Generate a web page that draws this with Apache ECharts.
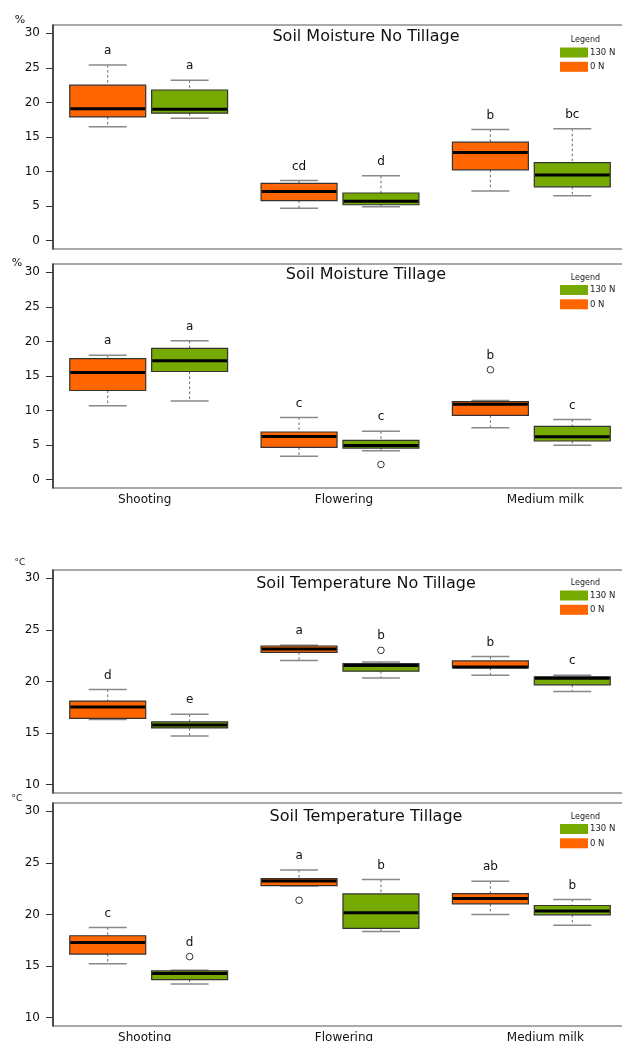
<!DOCTYPE html>
<html>
<head>
<meta charset="utf-8">
<script src="https://cdn.jsdelivr.net/npm/echarts@6/dist/echarts.min.js"></script>
<style>
  html, body { margin: 0; padding: 0; background: #fff; overflow: hidden; }
  #chart { width: 622px; height: 1041px; }
</style>
</head>
<body>
<div id="chart"></div>
<script>
// Growth stages on the x axis
const stages = ['Shooting', 'Flowering', 'Medium milk'];

// Tick labels
const moistureTicks = [0, 5, 10, 15, 20, 25, 30];
const temperatureTicks = [10, 15, 20, 25, 30];

// Box summaries per stage: [lower whisker, Q1, median, Q3, upper whisker]
// Soil moisture (%), no tillage
const moistNoTill0N   = [[16.5, 17.9, 19.1, 22.5, 25.4], [4.7, 5.8, 7.1, 8.3, 8.7], [7.2, 10.25, 12.75, 14.25, 16.1]];
const moistNoTill130N = [[17.7, 18.45, 19.0, 21.8, 23.2], [4.9, 5.2, 5.7, 6.9, 9.4], [6.5, 7.8, 9.5, 11.3, 16.2]];
const moistNoTillOut0N   = [[], [], []];
const moistNoTillOut130N = [[], [], []];
const moistNoTillLetters0N   = ['a', 'cd', 'b'];
const moistNoTillLetters130N = ['a', 'd', 'bc'];

// Soil moisture (%), tillage
const moistTill0N   = [[10.7, 12.9, 15.5, 17.5, 18.0], [3.4, 4.67, 6.26, 6.9, 9.0], [7.5, 9.3, 10.9, 11.3, 11.45]];
const moistTill130N = [[11.4, 15.65, 17.2, 19.0, 20.1], [4.2, 4.57, 4.96, 5.7, 7.0], [5.0, 5.6, 6.2, 7.7, 8.7]];
const moistTillOut0N   = [[], [], [15.9]];
const moistTillOut130N = [[], [2.2], []];
const moistTillLetters0N   = ['a', 'c', 'b'];
const moistTillLetters130N = ['a', 'c', 'c'];

// Soil temperature (°C), no tillage
const tempNoTill0N   = [[16.33, 16.43, 17.52, 18.1, 19.23], [22.03, 22.83, 23.15, 23.44, 23.5], [20.61, 21.32, 21.41, 21.99, 22.41]];
const tempNoTill130N = [[14.73, 15.5, 15.79, 16.08, 16.82], [20.35, 21.0, 21.54, 21.74, 21.9], [19.04, 19.68, 20.32, 20.45, 20.61]];
const tempNoTillOut0N   = [[], [], []];
const tempNoTillOut130N = [[], [23.02], []];
const tempNoTillLetters0N   = ['d', 'a', 'b'];
const tempNoTillLetters130N = ['e', 'b', 'c'];

// Soil temperature (°C), tillage
const tempTill0N   = [[15.24, 16.17, 17.3, 17.94, 18.75], [22.75, 22.8, 23.25, 23.47, 24.31], [20.0, 21.03, 21.54, 22.03, 23.22]];
const tempTill130N = [[13.28, 13.7, 14.28, 14.53, 14.6], [18.36, 18.65, 20.16, 21.99, 23.38], [18.97, 19.97, 20.35, 20.87, 21.45]];
const tempTillOut0N   = [[], [21.38], []];
const tempTillOut130N = [[15.92], [], []];
const tempTillLetters0N   = ['c', 'a', 'ab'];
const tempTillLetters130N = ['d', 'b', 'b'];

// ---- styling / layout ----
const ORANGE = '#ff6600';
const GREEN = '#76aa00';
const FONT = '"DejaVu Sans", Verdana, sans-serif';
const GRID_LEFT = 53;
const GRID_WIDTH = 574;      // right frame edge falls just past the canvas
const BOX_FRAC = 0.397;      // box width as a share of the category band
const HALF_SPACING = 0.214;  // offset of each box centre from the band centre
const LETTER_GAP = 14;       // px between the top of a box group and its letter
const STAGE_LABEL_SHIFT = { 'Shooting': -4, 'Flowering': 4, 'Medium milk': 14 }; // px nudge of stage labels

const panels = [
  { title: 'Soil Moisture No Tillage', unit: '%', top: 25, height: 224, min: -1.2, max: 31.2, ticks: moistureTicks,
    showStages: false, titleY: 37, legendTop: 47.5, unitPos: [20, 20],
    d0: moistNoTill0N, d130: moistNoTill130N, o0: moistNoTillOut0N, o130: moistNoTillOut130N,
    l0: moistNoTillLetters0N, l130: moistNoTillLetters130N },
  { title: 'Soil Moisture Tillage', unit: '%', top: 264, height: 224, min: -1.2, max: 31.2, ticks: moistureTicks,
    showStages: true, titleY: 275, legendTop: 285, unitPos: [17, 263],
    d0: moistTill0N, d130: moistTill130N, o0: moistTillOut0N, o130: moistTillOut130N,
    l0: moistTillLetters0N, l130: moistTillLetters130N },
  { title: 'Soil Temperature No Tillage', unit: '°C', top: 570, height: 223, min: 9.2, max: 30.8, ticks: temperatureTicks,
    showStages: false, titleY: 584, legendTop: 590.5, unitPos: [20, 563],
    d0: tempNoTill0N, d130: tempNoTill130N, o0: tempNoTillOut0N, o130: tempNoTillOut130N,
    l0: tempNoTillLetters0N, l130: tempNoTillLetters130N },
  { title: 'Soil Temperature Tillage', unit: '°C', top: 803, height: 223, min: 9.2, max: 30.8, ticks: temperatureTicks,
    showStages: true, titleY: 817, legendTop: 824, unitPos: [17, 799],
    d0: tempTill0N, d130: tempTill130N, o0: tempTillOut0N, o130: tempTillOut130N,
    l0: tempTillLetters0N, l130: tempTillLetters130N }
];

// R-style box: dashed whiskers, half-width caps, thick median, letter above
function boxRenderer(side, letters, tops) {
  return function (params, api) {
    const cat = api.value(0);
    const band = api.size([1, 0])[0];
    const cx = api.coord([cat, 0])[0] + side * band * HALF_SPACING;
    const w = band * BOX_FRAC;
    const y = v => api.coord([cat, v])[1];
    const lo = y(api.value(1)), q1 = y(api.value(2)), md = y(api.value(3)),
          q3 = y(api.value(4)), hi = y(api.value(5));
    const whisker = { stroke: '#666', lineWidth: 1, lineDash: [2.5, 2.5] };
    const cap = { stroke: '#888', lineWidth: 1.5 };
    return {
      type: 'group',
      children: [
        { type: 'line', shape: { x1: cx, y1: hi, x2: cx, y2: q3 }, style: whisker },
        { type: 'line', shape: { x1: cx, y1: q1, x2: cx, y2: lo }, style: whisker },
        { type: 'line', shape: { x1: cx - w / 4, y1: hi, x2: cx + w / 4, y2: hi }, style: cap },
        { type: 'line', shape: { x1: cx - w / 4, y1: lo, x2: cx + w / 4, y2: lo }, style: cap },
        { type: 'rect', shape: { x: cx - w / 2, y: q3, width: w, height: q1 - q3 },
          style: { fill: api.visual('color'), stroke: '#333', lineWidth: 1.2 } },
        { type: 'line', shape: { x1: cx - w / 2 + 0.6, y1: md, x2: cx + w / 2 - 0.6, y2: md },
          style: { stroke: '#000', lineWidth: 3 } },
        { type: 'text', x: cx, y: y(tops[params.dataIndex]) - LETTER_GAP,
          style: { text: letters[params.dataIndex], align: 'center', verticalAlign: 'middle',
                   font: '12px ' + FONT, fill: '#111' } }
      ]
    };
  };
}

function outlierRenderer(side) {
  return function (params, api) {
    const cat = api.value(0);
    const band = api.size([1, 0])[0];
    const p = api.coord([cat, api.value(1)]);
    return { type: 'circle', shape: { cx: p[0] + side * band * HALF_SPACING, cy: p[1], r: 3.3 },
             style: { fill: 'none', stroke: '#333', lineWidth: 1 } };
  };
}

const stageAxisData = stages.map(s => {
  const shift = STAGE_LABEL_SHIFT[s] || 0;
  return { value: s, textStyle: { padding: shift >= 0 ? [0, 0, 0, 2 * shift] : [0, -2 * shift, 0, 0] } };
});

const grids = [], xAxes = [], yAxes = [], series = [], legends = [], graphics = [];

panels.forEach((pn, i) => {
  grids.push({ left: GRID_LEFT, width: GRID_WIDTH, top: pn.top, height: pn.height, show: true,
               outerBoundsMode: 'none', containLabel: false,
               borderColor: '#555', borderWidth: 1.2, backgroundColor: 'transparent' });
  xAxes.push({ type: 'category', gridIndex: i, data: stageAxisData, boundaryGap: true,
               axisLine: { show: false }, axisTick: { show: false }, splitLine: { show: false },
               axisLabel: { show: pn.showStages, margin: 6, fontSize: 12, fontFamily: FONT, color: '#111' } });
  yAxes.push({ type: 'value', gridIndex: i, min: pn.min, max: pn.max, splitLine: { show: false },
               axisLine: { show: true, lineStyle: { color: '#333', width: 1.5 } },
               axisTick: { show: true, length: 7, customValues: pn.ticks, lineStyle: { color: '#333' } },
               axisLabel: { customValues: pn.ticks, margin: 13, fontSize: 12, fontFamily: FONT, color: '#111' } });

  const groups = [
    { name: '0 N', color: ORANGE, side: -1, data: pn.d0, out: pn.o0, letters: pn.l0 },
    { name: '130 N', color: GREEN, side: 1, data: pn.d130, out: pn.o130, letters: pn.l130 }
  ];
  groups.forEach(g => {
    const tops = g.data.map((b, k) => Math.max(b[4], ...g.out[k]));
    series.push({
      type: 'custom', name: g.name, xAxisIndex: i, yAxisIndex: i,
      itemStyle: { color: g.color },
      renderItem: boxRenderer(g.side, g.letters, tops),
      encode: { x: 0, y: [1, 2, 3, 4, 5] },
      data: g.data.map((b, k) => [k].concat(b))
    });
    const outPts = [];
    g.out.forEach((vals, k) => vals.forEach(v => outPts.push([k, v])));
    series.push({
      type: 'custom', name: g.name + ' outliers', xAxisIndex: i, yAxisIndex: i,
      renderItem: outlierRenderer(g.side), encode: { x: 0, y: 1 }, data: outPts
    });
  });

  legends.push({
    data: ['130 N', '0 N'], orient: 'vertical', left: 560, top: pn.legendTop, padding: 0,
    itemWidth: 28, itemHeight: 10, itemGap: 4.3, icon: 'rect', selectedMode: false,
    itemStyle: { borderWidth: 0 },
    textStyle: { fontSize: 8.5, lineHeight: 10, fontFamily: FONT, color: '#222', padding: [0, 0, 0, -3] }
  });

  graphics.push(
    { type: 'text', x: 366, y: pn.titleY,
      style: { text: pn.title, align: 'center', verticalAlign: 'middle', font: '16px ' + FONT, fill: '#111' } },
    { type: 'text', x: 585.5, y: pn.legendTop - 7.5,
      style: { text: 'Legend', align: 'center', verticalAlign: 'middle', font: '8px ' + FONT, fill: '#222' } },
    { type: 'text', x: pn.unitPos[0], y: pn.unitPos[1],
      style: { text: pn.unit, align: 'center', verticalAlign: 'middle',
               font: (pn.unit === '%' ? '11px ' : '9px ') + FONT, fill: '#111' } }
  );
});

const chart = echarts.init(document.getElementById('chart'), null, { renderer: 'canvas' });
chart.setOption({
  animation: false,
  backgroundColor: '#fff',
  grid: grids,
  xAxis: xAxes,
  yAxis: yAxes,
  legend: legends,
  series: series,
  graphic: graphics
});
</script>
</body>
</html>
